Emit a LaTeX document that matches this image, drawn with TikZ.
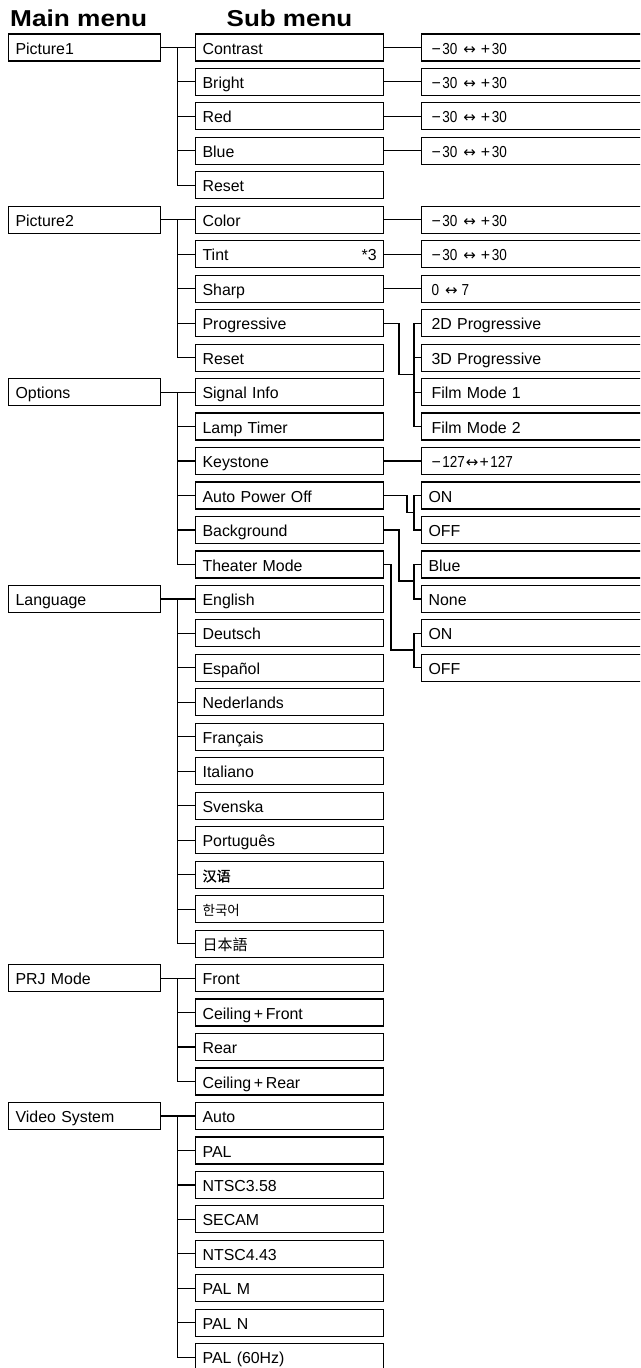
\documentclass[tikz,border=0pt]{standalone}
\usepackage{fontspec}
\usepackage{graphicx}
\setmainfont{Liberation Sans}
\newfontfamily\cjk{Noto Sans CJK SC}
\newfontfamily\cjkb[FakeBold=1.2]{Noto Sans CJK SC}
\newfontfamily\dvs{DejaVu Sans}
\newcommand{\cnd}[1]{\scalebox{0.85}[1]{#1}}
\newcommand{\arr}{{\dvs\fontsize{15}{15}\selectfont ↔}}
\newcommand{\thirty}{\mbox{−\hspace{1.5pt}\cnd{30}\hspace{6pt}\arr\hspace{5pt}+\hspace{1.5pt}\cnd{30}}}
\begin{document}
\begin{tikzpicture}[x=1pt,y=-1pt,
  conn/.style={line width=1.2pt, line join=miter},
  box/.style={draw, line width=1.2pt, rectangle, anchor=north west, minimum height=27pt,
    inner ysep=0pt, inner xsep=7pt, text height=13.2pt, text depth=0pt, align=left,
    font=\fontsize{15.9}{16}\selectfont},
  mainbox/.style={box, minimum width=152pt, text width=138pt},
  subbox/.style={box, minimum width=188pt, text width=174pt},
  valbox/.style={box, minimum width=240pt, text width=226pt},
  valpad/.style={inner xsep=10pt, text width=220pt},
  head/.style={anchor=base west, inner sep=0pt, font=\fontsize{23}{25}\selectfont\bfseries}]
\useasboundingbox (0,0) rectangle (640,1368);
\clip (0,0) rectangle (640,1368);

% headings
\node[head] (h1) at (10,26.7) {\scalebox{1.14}[1]{Main menu}};
\node[head] (h2) at (226.5,26.7) {\scalebox{1.13}[1]{Sub menu}};

% main menu
\foreach \i/\n/\t in {0/m1/Picture1, 5/m2/Picture2, 10/m3/Options, 16/m4/Language, 27/m5/PRJ Mode, 31/m6/Video System}
  \node[mainbox] (\n) at (8,{33.3+\i*34.47}) {\t};

% sub menu
\foreach \i/\t in {0/Contrast, 1/Bright, 2/Red, 3/Blue, 4/Reset,
  5/Color, 6/{Tint\hfill*3}, 7/Sharp, 8/Progressive, 9/Reset,
  10/Signal Info, 11/Lamp Timer, 12/Keystone, 13/Auto Power Off, 14/Background, 15/Theater Mode,
  16/English, 17/Deutsch, 18/Español, 19/Nederlands, 20/Français, 21/Italiano, 22/Svenska, 23/Português,
  24/{{\cjkb\fontsize{14}{14}\selectfont 汉语}}, 25/{{\cjk\fontsize{13.5}{14}\selectfont 한국어}}, 26/{{\cjk\fontsize{15}{15}\selectfont 日本語}},
  27/Front, 28/{Ceiling\,+\,Front}, 29/Rear, 30/{Ceiling\,+\,Rear},
  31/Auto, 32/PAL, 33/NTSC3.58, 34/SECAM, 35/NTSC4.43, 36/PAL M, 37/PAL N, 38/PAL (60Hz)}
  \node[subbox] (s\i) at (195,{33.3+\i*34.47}) {\t};

% main -> sub connectors
\coordinate (bx) at (177.5,0);
\foreach \m/\a/\b in {m1/0/4, m2/5/9, m3/10/15, m4/16/26, m5/27/30, m6/31/38} {
  \draw[conn] (\m.east) -- (s\a.west);
  \draw[conn] (s\a.west -| bx) -- (s\b.west -| bx) -- (s\b.west);
  \foreach \k in {\a,...,\b}
    \draw[conn] (s\k.west -| bx) -- (s\k.west);
}

% values, straight
\foreach \i in {0,1,2,3,5,6} {
  \node[valbox, valpad] (t\i) at (421,{33.3+\i*34.47}) {\thirty};
  \draw[conn] (s\i.east) -- (t\i.west);
}
\node[valbox, valpad] (t7) at (421,{33.3+7*34.47}) {\mbox{\cnd{0}\hspace{6pt}\arr\hspace{4pt}\cnd{7}}};
\draw[conn] (s7.east) -- (t7.west);
\node[valbox, valpad] (t12) at (421,{33.3+12*34.47}) {\mbox{−\hspace{1.5pt}\cnd{127}\hspace{1pt}\arr\hspace{1pt}+\hspace{1.5pt}\cnd{127}}};
\draw[conn] (s12.east) -- (t12.west);

% option values
\foreach \i/\t in {8/2D Progressive, 9/3D Progressive, 10/Film Mode 1, 11/Film Mode 2}
  \node[valbox, valpad] (t\i) at (421,{33.3+\i*34.47}) {\t};
\foreach \i/\t in {13/ON, 14/OFF, 15/Blue, 16/None, 17/ON, 18/OFF}
  \node[valbox] (t\i) at (421,{33.3+\i*34.47}) {\t};

% small trees
\coordinate (bar) at (414,0);
\coordinate (jp) at (399,374.27);
\coordinate (ja) at (407,512.15);
\coordinate (jb) at (399,581.09);
\coordinate (jt) at (391,650.03);
\draw[conn] (s8.east) -| (jp) -- (jp -| bar);
\draw[conn] (s13.east) -| (ja) -- (ja -| bar);
\draw[conn] (s14.east) -| (jb) -- (jb -| bar);
\draw[conn] (s15.east) -| (jt) -- (jt -| bar);
\foreach \a/\b in {8/11, 13/14, 15/16, 17/18} {
  \draw[conn] (t\a.west) -- (t\a.west -| bar) -- (t\b.west -| bar) -- (t\b.west);
}
\foreach \k in {9,10}
  \draw[conn] (t\k.west -| bar) -- (t\k.west);
\end{tikzpicture}
\end{document}
